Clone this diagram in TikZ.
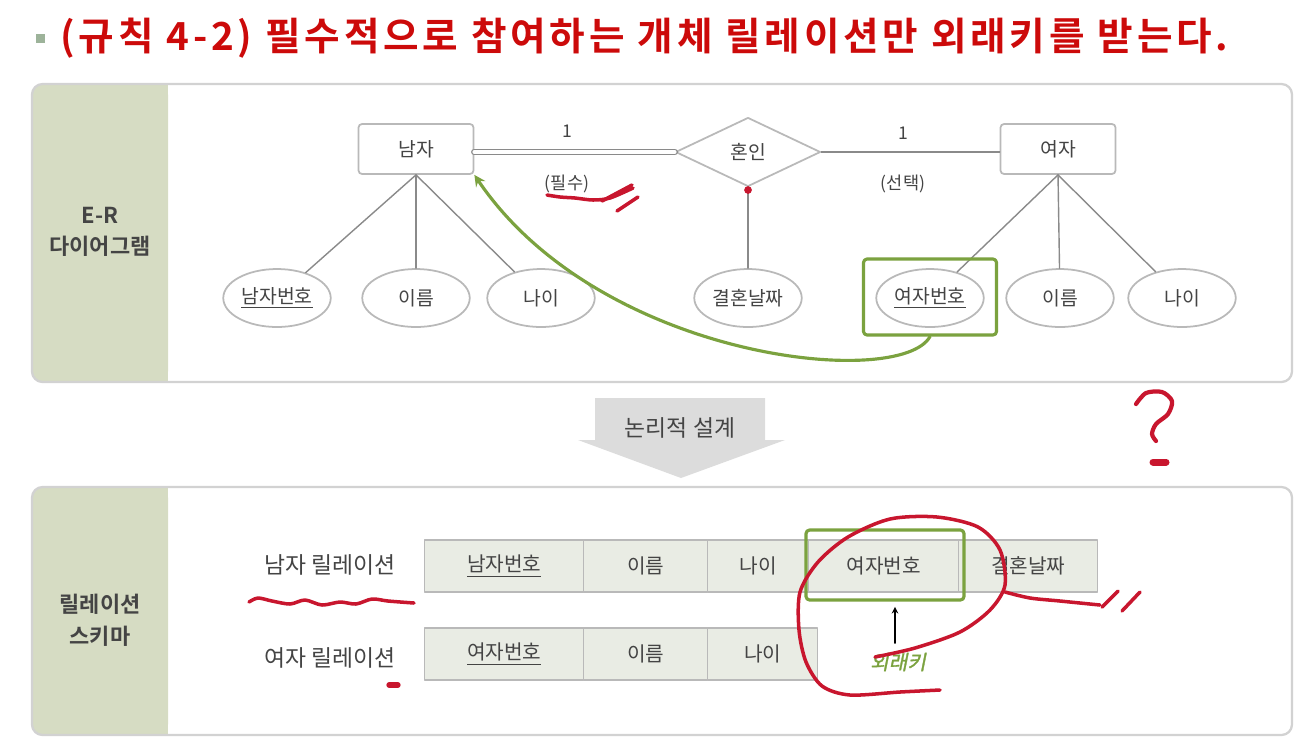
\documentclass[tikz,border=0pt]{standalone}
\usepackage{fontspec}
\setmainfont{Noto Sans CJK KR}[BoldFont={Noto Sans CJK KR Bold}]
\newfontfamily\slantfont{Noto Sans CJK KR}[FakeSlant=0.2,FakeBold=1.5]
\usetikzlibrary{shapes.geometric,positioning}
\definecolor{titlered}{HTML}{CC0A0A}
\definecolor{bulletgray}{HTML}{9DB39A}
\definecolor{panelline}{HTML}{D2D2D2}
\definecolor{sidegreen}{HTML}{D6DCC3}
\definecolor{boxline}{HTML}{B9B9B9}
\definecolor{erline}{HTML}{8A8A8A}
\definecolor{txtgray}{HTML}{444444}
\definecolor{arrowgray}{HTML}{DCDCDC}
\definecolor{cellfill}{HTML}{E9ECE4}
\definecolor{fkgreen}{HTML}{7BA23F}
\definecolor{inkred}{HTML}{C8162E}
\tikzset{
  entity/.style={draw=boxline,line width=1pt,rounded corners=2pt,fill=white,
    minimum width=2.3cm,minimum height=1cm,text=txtgray},
  relship/.style={diamond,draw=boxline,line width=1pt,fill=white,inner sep=0pt,
    minimum width=2.9cm,minimum height=1.38cm,text=txtgray},
  attr/.style={ellipse,draw=boxline,line width=1pt,fill=white,inner sep=0pt,
    minimum width=2.15cm,minimum height=1.16cm,text=txtgray},
  conn/.style={draw=erline,line width=0.8pt},
  card/.style={text=txtgray,font=\fontsize{10}{12}\selectfont},
  sidelabel/.style={align=center,text=txtgray,font=\bfseries\fontsize{12.5}{18}\selectfont},
  cell/.style={draw=boxline,line width=0.8pt,fill=cellfill,minimum height=1.04cm,
    anchor=west,text=txtgray,font=\fontsize{11.5}{13}\selectfont},
  rowlab/.style={anchor=east,text=txtgray,font=\fontsize{13}{15}\selectfont},
  fkbox/.style={draw=fkgreen,line width=1.8pt,rounded corners=2pt},
  scribble/.style={draw=inkred,line width=2pt,line cap=round,line join=round},
}
\begin{document}
\begin{tikzpicture}[x=0.02cm,y=-0.02cm,font=\fontsize{11}{13}\selectfont,line join=round,line cap=round,>=stealth]
\useasboundingbox (0,0) rectangle (1307,755);
% title
\fill[bulletgray] (36,34) rectangle (45,43);
\node[anchor=west,text=titlered,inner sep=0pt,font=\bfseries\fontsize{22}{26}\selectfont\addfontfeatures{LetterSpace=10}] (title) at (60,38)
  {(규칙 4-2) 필수적으로 참여하는 개체 릴레이션만 외래키를 받는다.};
% panels
\foreach \t/\b in {84/382, 487/735} {
  \fill[sidegreen,rounded corners=6] (32,\t) rectangle (168,\b);
  \fill[sidegreen] (120,\t) rectangle (168,\b);
  \draw[panelline,line width=1.3pt,rounded corners=6] (32,\t) rectangle (1292,\b);
}
\node[sidelabel] (erlab) at (100,232) {E-R\\다이어그램};
\node[sidelabel] (rslab) at (100,620) {릴레이션\\스키마};

% E-R diagram
\node[entity] (man) at (416,149) {남자};
\node[relship] (marry) at (748,152) {혼인};
\node[entity] (woman) at (1058,149) {여자};
\draw[conn,double=white,double distance=2.2pt] (man.east |- marry.west) -- (marry.west);
\draw[conn] (marry.east) -- (woman.west |- marry.east);
\node[card] (c1) at (567,131) {1};
\node[card] (o1) at (567,184) {(필수)};
\node[card] (c2) at (903,133) {1};
\node[card] (o2) at (903,184) {(선택)};
\foreach \n/\x/\t in {mno/277/\underline{남자번호}, mname/416/이름, mage/541/나이, mdate/748/결혼날짜,
                      wno/930/\underline{여자번호}, wname/1060/이름, wage/1182/나이} {
  \node[attr] (\n) at (\x,298) {\t};
}
\foreach \a in {mno,mname,mage} \draw[conn] (man.south) -- (\a);
\foreach \a in {wno,wname,wage} \draw[conn] (woman.south) -- (\a);
\draw[conn] (marry.south) -- (mdate);
\node[fkbox,minimum width=2.66cm,minimum height=1.52cm] (wnobox) at (930,297) {};
\draw[fkgreen,line width=1.8pt,->] (wnobox.south) .. controls (900,390) and (600,360) .. (man.south east);

% logical design arrow
\fill[arrowgray] (595,398) -- (765,398) -- (765,440) -- (785,440) -- (681,478) -- (578,440) -- (595,440) -- cycle;
\node[text=txtgray,font=\fontsize{13}{15}\selectfont] (design) at (680,428) {논리적 설계};

% relation schema
\node[rowlab] (mrel) at (402,565) {남자 릴레이션};
\node[rowlab] (wrel) at (402,658) {여자 릴레이션};
\foreach \n/\x/\w/\t in {m1/424/3.18/\underline{남자번호}, m2/583/2.48/이름, m3/707/2.02/나이,
                         m4/808/3.0/여자번호, m5/958/2.78/결혼날짜} {
  \node[cell,minimum width=\w cm] (\n) at (\x,566) {\t};
}
\foreach \n/\x/\w/\t in {w1/424/3.18/\underline{여자번호}, w2/583/2.48/이름, w3/707/2.2/나이} {
  \node[cell,minimum width=\w cm] (\n) at (\x,654) {\t};
}
\node[fkbox,minimum width=3.16cm,minimum height=1.4cm] (m4box) at (885,565) {};
\node[text=fkgreen,font=\slantfont\fontsize{11.5}{13}\selectfont] (fk) at (898,662) {외래키};
\draw[->,line width=0.7pt] ([yshift=2pt]fk.north -| 895,0) -- ([yshift=-3pt]m4box.south -| 895,0);

% red pen marks
\draw[scribble] plot[smooth] coordinates {(547,195) (560,197) (575,198) (593,200) (610,198) (633,188)};
\draw[scribble] (602,201) -- (632,185) (617,211) -- (638,197);
\fill[inkred] (748,190) circle (2.2pt);
\draw[scribble,line width=2.4pt] plot[smooth] coordinates {(1136,404) (1146,393) (1162,392) (1172,401) (1168,414) (1156,424) (1152,434) (1156,441)};
\draw[scribble,line width=4pt] (1153,462) -- (1166,462);
\draw[scribble] plot[smooth] coordinates {(249,602) (258,598) (272,601) (290,604) (305,600) (322,605) (340,602) (356,604) (372,599) (388,601) (414,603)};
\draw[scribble,line width=3pt] (389,685) -- (398,685);
\draw[scribble] plot[smooth] coordinates {(875,657) (915,648) (960,632) (990,610) (1005,585) (1000,550) (978,527) (937,517) (890,519) (848,537) (818,562) (800,592) (799,630) (806,662) (822,686) (850,695) (900,692) (940,690)};
\draw[scribble] plot[smooth] coordinates {(1005,592) (1030,598) (1060,601) (1100,605)};
\draw[scribble] (1102,607) -- (1118,591) (1122,611) -- (1140,592);
\end{tikzpicture}
\end{document}
